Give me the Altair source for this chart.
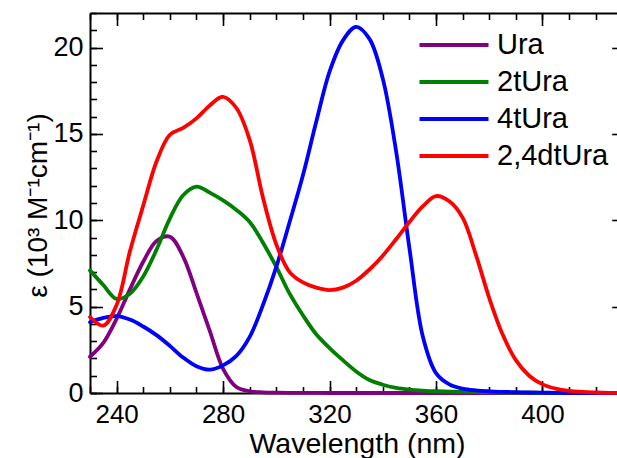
import altair as alt
import pandas as pd

# ---------------- data ----------------
wavelength = [230, 235, 240, 245, 250, 255, 260, 265, 270, 275, 280, 285, 290, 295,
              300, 305, 310, 315, 320, 325, 330, 335, 340, 345, 350, 355, 360, 365,
              370, 375, 380, 385, 390, 395, 400, 405, 410, 415, 420, 425, 430]

ura = [2.1, 2.9, 4.3, 6.0, 7.6, 8.8, 9.05, 7.9, 5.8, 3.6, 1.4, 0.35, 0.1, 0.04,
       0.02, 0.01, 0.01, 0.01, 0.0, 0.0, 0.0, 0.0, 0.0, 0.0, 0.0, 0.0, 0.0, 0.0,
       0.0, 0.0, 0.0, 0.0, 0.0, 0.0, 0.0, 0.0, 0.0, 0.0, 0.0, 0.0, 0.0]

t2ura = [7.1, 6.25, 5.45, 5.75, 6.75, 8.3, 10.1, 11.45, 11.95, 11.6, 11.15, 10.6, 9.9, 8.7,
         7.3, 5.75, 4.5, 3.4, 2.6, 1.9, 1.25, 0.75, 0.48, 0.3, 0.2, 0.14, 0.1, 0.08,
         0.06, 0.05, 0.04, 0.03, 0.02, 0.02, 0.01, 0.01, 0.0, 0.0, 0.0, 0.0, 0.0]

t4ura = [4.1, 4.35, 4.45, 4.25, 3.85, 3.35, 2.73, 2.05, 1.55, 1.35, 1.6, 2.15, 3.25, 5.1,
         7.3, 9.9, 12.6, 15.7, 18.6, 20.4, 21.2, 20.5, 18.2, 14.0, 8.4, 3.3, 1.15, 0.5,
         0.25, 0.15, 0.1, 0.07, 0.05, 0.03, 0.02, 0.01, 0.0, 0.0, 0.0, 0.0, 0.0]

dt24ura = [4.4, 3.9, 5.1, 8.2, 10.85, 13.4, 14.95, 15.35, 15.9, 16.65, 17.15, 16.5, 14.65, 11.3,
           8.6, 7.0, 6.4, 6.1, 5.96, 6.1, 6.5, 7.15, 7.95, 8.9, 9.9, 10.8, 11.4, 11.1,
           10.15, 8.0, 5.5, 3.4, 1.9, 1.0, 0.5, 0.25, 0.12, 0.06, 0.03, 0.01, 0.0]

series_names = ["Ura", "2tUra", "4tUra", "2,4dtUra"]
series_colors = ["#800080", "#008000", "#0000ff", "#ff0000"]

x_major = [240, 280, 320, 360, 400]
x_minor = [230, 240, 250, 260, 270, 280, 290, 300, 310, 320, 330, 340, 350, 360,
           370, 380, 390, 400, 410, 420]
y_major = [0, 5, 10, 15, 20]
y_minor = [0, 1, 2, 3, 4, 5, 6, 7, 8, 9, 10, 11, 12, 13, 14, 15, 16, 17, 18, 19,
           20, 21, 22]

rows = []
for name, vals in zip(series_names, [ura, t2ura, t4ura, dt24ura]):
    for w, v in zip(wavelength, vals):
        rows.append({"wl": w, "eps": v, "series": name})
df = pd.DataFrame(rows)

FONT = "Liberation Sans"
MAJ = 12.5
MIN = 6.5

xscale = alt.Scale(domain=[230, 428], nice=False, zero=False)
yscale = alt.Scale(domain=[0, 22], nice=False, zero=False)


def ax(orient, **kw):
    base = dict(orient=orient, grid=False, domain=False, labels=False, ticks=False,
                title=None, tickColor="black", tickWidth=1.6, domainColor="black",
                domainWidth=2, labelFont=FONT, labelColor="black", labelFlush=False,
                labelOverlap=False, titleFont=FONT, titleColor="black",
                titleFontWeight="normal")
    base.update(kw)
    return alt.Axis(**base)


base = alt.Chart(df)

main = base.mark_line(strokeWidth=3.8, strokeCap="round", strokeJoin="round",
                      interpolate="catmull-rom").encode(
    x=alt.X("wl:Q", scale=xscale,
            axis=ax("bottom", ticks=True, labels=True, values=x_major,
                    tickSize=MAJ, offset=-MAJ, labelPadding=8, labelFontSize=26)),
    y=alt.Y("eps:Q", scale=yscale,
            axis=ax("left", ticks=True, labels=True, values=y_major,
                    tickSize=MAJ, offset=-MAJ, labelPadding=7, labelFontSize=27)),
    color=alt.Color("series:N",
                    scale=alt.Scale(domain=series_names, range=series_colors),
                    legend=alt.Legend(title=None, orient="none", legendX=349.5,
                                      legendY=17.5, symbolType="M-3,0H3",
                                      symbolSize=529, symbolStrokeWidth=4,
                                      labelFont=FONT, labelFontSize=29,
                                      labelColor="black", labelOffset=28.5,
                                      rowPadding=7, padding=0, symbolOffset=0)),
)

minor = base.mark_point(opacity=0).encode(
    x=alt.X("wl:Q", scale=xscale,
            axis=ax("bottom", ticks=True, values=x_minor, tickSize=MIN, offset=-MIN)),
    y=alt.Y("eps:Q", scale=yscale,
            axis=ax("left", ticks=True, values=y_minor, tickSize=MIN, offset=-MIN)),
)

frame = base.mark_point(opacity=0).encode(
    x=alt.X("wl:Q", scale=xscale,
            axis=ax("bottom", domain=True, values=x_major, title="Wavelength (nm)",
                    titleFontSize=28.5, titleX=267, titleY=59.5, titleAlign="center",
                    titleBaseline="alphabetic")),
    y=alt.Y("eps:Q", scale=yscale,
            axis=ax("left", domain=True, values=y_major,
                    title="\u03b5 (10\u00b3 M\u207b\u00b9cm\u207b\u00b9)",
                    titleFontSize=28, titleX=-52, titleY=192, titleAngle=270,
                    titleAlign="center", titleBaseline="middle")),
)

top_major = base.mark_point(opacity=0).encode(
    x=alt.X("wl:Q", scale=xscale,
            axis=ax("top", ticks=True, values=x_major, tickSize=MAJ, offset=-MAJ)),
    y=alt.Y("eps:Q", scale=yscale,
            axis=ax("right", ticks=True, values=y_major, tickSize=5.3, offset=-5.3)),
)

top_minor = base.mark_point(opacity=0).encode(
    x=alt.X("wl:Q", scale=xscale,
            axis=ax("top", ticks=True, values=x_minor, tickSize=MIN, offset=-MIN)),
    y=alt.Y("eps:Q", scale=yscale, axis=None),
)

top_frame = base.mark_point(opacity=0).encode(
    x=alt.X("wl:Q", scale=xscale, axis=ax("top", domain=True, values=x_major)),
    y=alt.Y("eps:Q", scale=yscale, axis=None),
)

chart = alt.layer(main, minor, frame, top_major, top_minor, top_frame).resolve_axis(
    x="independent", y="independent"
).properties(
    width=527,
    height=380,
    autosize=alt.AutoSizeParams(type="none"),
    padding={"left": 90, "top": 13, "right": 0, "bottom": 65},
    background="white",
).configure_view(stroke=None)

chart.save("out.html", embed_options={"renderer": "svg", "actions": False})
